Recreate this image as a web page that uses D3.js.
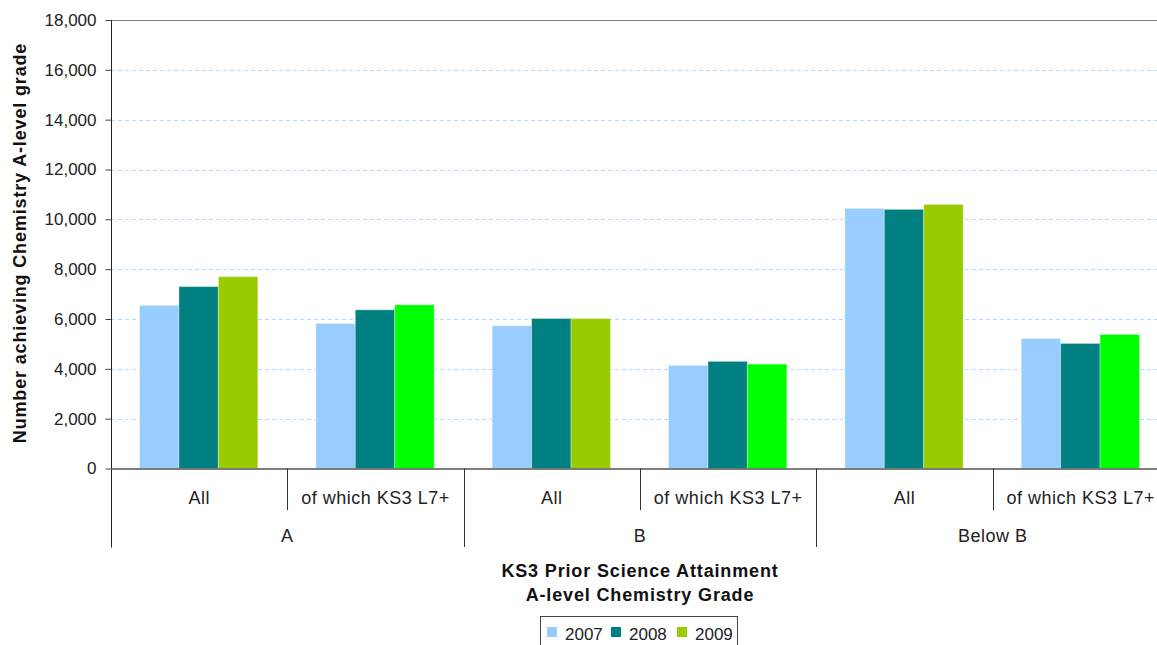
<!DOCTYPE html>
<html><head><meta charset="utf-8">
<script src="https://cdn.jsdelivr.net/npm/d3@7"></script>
<style>
body{margin:0;background:#fff;}
svg{display:block;font-family:"Liberation Sans",Arial,sans-serif;}
</style></head>
<body><svg id="c" width="1157" height="645"></svg>
<script>
const groups = ["A","B","Below B"];
const subs = ["All","of which KS3 L7+"];
const categories = [
  {group:"A", sub:"All"},{group:"A", sub:"of which KS3 L7+"},
  {group:"B", sub:"All"},{group:"B", sub:"of which KS3 L7+"},
  {group:"Below B", sub:"All"},{group:"Below B", sub:"of which KS3 L7+"}
];
const years = ["2007","2008","2009"];
const v2007 = [6550, 5820, 5730, 4140, 10440, 5220];
const v2008 = [7300, 6370, 6020, 4300, 10400, 5020];
const v2009 = [7700, 6570, 6020, 4190, 10600, 5380];
const yTicks = [0,2000,4000,6000,8000,10000,12000,14000,16000,18000];
const colors = {"2007":"#99CCFF","2008":"#008080","2009":"#99CC00"};
const colorL7_2009 = "#00FF00";

(function(){
const series = {"2007":v2007,"2008":v2008,"2009":v2009};
const svg = d3.select("#c");
const mLeft = 111, mTop = 20, mBottom = 468.5, mRight = 1169;

const y = d3.scaleLinear().domain([0,18000]).range([mBottom, mTop]);
const x = d3.scaleBand().domain(d3.range(categories.length)).range([mLeft, mRight]).paddingInner(0).paddingOuter(0);
const xi = d3.scaleBand().domain(years).range([28.5, x.bandwidth()-29.5]).padding(0);

// gridlines
svg.append("g").selectAll("line").data(yTicks.filter(d=>d>0 && d<18000)).join("line")
  .attr("x1", mLeft).attr("x2", mRight)
  .attr("y1", d=>Math.round(y(d))+0.5).attr("y2", d=>Math.round(y(d))+0.5)
  .attr("stroke","#B3D9FF").attr("stroke-width",1.2).attr("stroke-dasharray","4,3");
// top border
svg.append("line").attr("x1",mLeft).attr("x2",mRight).attr("y1",Math.round(y(18000))+0.5).attr("y2",Math.round(y(18000))+0.5)
  .attr("stroke","#808080");

// bars
const bars = [];
categories.forEach((c,i)=>years.forEach(yr=>bars.push({i, yr, v:series[yr][i], sub:c.sub})));
svg.append("g").selectAll("rect").data(bars).join("rect")
  .attr("x", d=>x(d.i)+xi(d.yr))
  .attr("width", xi.bandwidth())
  .attr("y", d=>y(d.v))
  .attr("height", d=>mBottom - y(d.v))
  .attr("fill", d=> (d.yr==="2009" && d.sub!=="All") ? colorL7_2009 : colors[d.yr])
  .attr("stroke","rgba(255,255,255,0.35)").attr("stroke-width",1);

// y axis
const yAxis = d3.axisLeft(y).tickValues(yTicks).tickSize(6).tickPadding(9).tickFormat(d3.format(","));
const gy = svg.append("g").attr("transform",`translate(${mLeft+0.5},0)`).call(yAxis);
gy.select(".domain").attr("stroke","#222").attr("d",`M0,${mBottom+79}V${mTop}`);
gy.selectAll(".tick line").attr("stroke","#444");
gy.selectAll(".tick text").attr("font-size","17px").attr("fill","#222");

// x axis baseline
svg.append("line").attr("x1",mLeft).attr("x2",mRight).attr("y1",mBottom+0.5).attr("y2",mBottom+0.5)
  .attr("stroke","#555").attr("stroke-width",1.5);

// sub separators
const sep = svg.append("g").attr("stroke","#333");
categories.forEach((c,i)=>{
  if(i===0) return;
  const xx = Math.round(x(i))+0.5;
  const isGroup = c.group !== categories[i-1].group;
  sep.append("line").attr("x1",xx).attr("x2",xx).attr("y1",mBottom).attr("y2", isGroup? 547 : 510);
});
// sub labels
const lbl = s => s.attr("text-anchor","middle").attr("font-size","18px").attr("fill","#222").style("letter-spacing","0.5px");
svg.append("g").selectAll("text").data(categories).join("text")
  .attr("x",(d,i)=>x(i)+x.bandwidth()/2).attr("y",504)
  .call(lbl).text(d=>d.sub);
// group labels
svg.append("g").selectAll("text").data(groups).join("text")
  .attr("x",g=>{const idx=categories.map((c,i)=>c.group===g?i:-1).filter(i=>i>=0);return (x(idx[0])+x(idx[idx.length-1])+x.bandwidth())/2;})
  .attr("y",542).call(lbl).text(d=>d);

// axis titles
const tStyle = s => s.attr("text-anchor","middle").attr("font-size","18px").attr("font-weight","bold")
  .attr("fill","#111").style("letter-spacing","0.85px");
svg.append("text").attr("x",640).attr("y",577).call(tStyle).text("KS3 Prior Science Attainment");
svg.append("text").attr("x",640).attr("y",601).call(tStyle).text("A-level Chemistry Grade");
svg.append("text").attr("transform","translate(26,243) rotate(-90)").call(tStyle)
  .text("Number achieving Chemistry A-level grade");

// legend
const lg = svg.append("g");
lg.append("rect").attr("x",540.5).attr("y",616.5).attr("width",197).attr("height",40)
  .attr("fill","#fff").attr("stroke","#444");
const lx = [547, 611, 677];
years.forEach((yr,k)=>{
  lg.append("rect").attr("x",lx[k]).attr("y",627).attr("width",10).attr("height",10).attr("fill",colors[yr]);
  lg.append("text").attr("x",lx[k]+18).attr("y",640).attr("font-size","17px").attr("fill","#222").text(yr);
});
})();
</script></body></html>
